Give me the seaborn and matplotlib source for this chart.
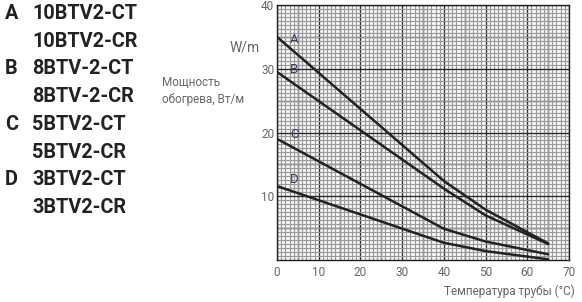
import numpy as np
import pandas as pd
import matplotlib
matplotlib.use("Agg")
import matplotlib.pyplot as plt
import seaborn as sns
from matplotlib.ticker import MultipleLocator

# data
temps = [0, 40, 50, 65]
series_A = [35.0, 12.4, 7.9, 2.6]
series_B = [29.5, 11.2, 7.0, 2.5]
series_C = [19.0, 4.9, 2.9, 0.9]
series_D = [11.6, 2.7, 1.4, 0.1]
series_names = ["A", "B", "C", "D"]
legend_rows = [("A", "10BTV2-CT"), ("", "10BTV2-CR"),
               ("B", "8BTV-2-CT"), ("", "8BTV-2-CR"),
               ("C", "5BTV2-CT"), ("", "5BTV2-CR"),
               ("D", "3BTV2-CT"), ("", "3BTV2-CR")]
x_ticks = [0, 10, 20, 30, 40, 50, 60, 70]
y_ticks = [10, 20, 30, 40]

rows = []
for name, vals in zip(series_names, [series_A, series_B, series_C, series_D]):
    for t, v in zip(temps, vals):
        rows.append({"t": t, "p": v, "s": name})
df = pd.DataFrame(rows)

sns.set_style("white")
plt.rcParams['font.family'] = ['Roboto', 'DejaVu Sans']

fig = plt.figure(figsize=(5.82, 3.02), dpi=100)
ax = fig.add_axes([277/582, 1-260/302, (569-277)/582, (260-5)/302])

ax.set_xlim(0, 70)
ax.set_ylim(0, 40)

sns.lineplot(data=df, x="t", y="p", hue="s", palette=["#222222"]*4,
             linewidth=1.8, legend=False, ax=ax, estimator=None, sort=False)

ax.set_xlabel("")
ax.set_ylabel("")
ax.set_xticks(x_ticks)
ax.set_xticklabels([str(v) for v in x_ticks])
ax.set_yticks(y_ticks)
ax.set_yticklabels([str(v) for v in y_ticks])
ax.xaxis.set_minor_locator(MultipleLocator(1))
ax.yaxis.set_minor_locator(MultipleLocator(0.625))
ax.grid(which="minor", color="#9a9a9a", linewidth=0.9)
ax.grid(which="major", color="#2a2a2a", linewidth=1.0)
ax.set_axisbelow(True)
# major grid every 5 via extra lines
for xv in range(5, 70, 10):
    ax.axvline(xv, color="#2a2a2a", linewidth=1.0, zorder=0.5)
for yv in range(5, 40, 10):
    ax.axhline(yv, color="#2a2a2a", linewidth=1.0, zorder=0.5)
ax.tick_params(axis="both", which="both", length=0, labelsize=8.5,
               labelcolor="#666666")
ax.tick_params(axis="y", pad=2)
ax.tick_params(axis="x", pad=4)
for sp in ax.spines.values():
    sp.set_color("#222222")
    sp.set_linewidth(1.0)

label_pos = {"A": 34.6, "B": 29.9, "C": 19.7, "D": 12.6}
for name in series_names:
    ax.text(4.1, label_pos[name], name, fontsize=9.5, color="#3c3c58",
            ha="center", va="center")

# axis labels
fig.text(575/582, 1-291/302, "Температура трубы (°C)", fontsize=8.5,
         color="#666666", ha="right", va="center")
fig.text(260/582, 1-47/302, "W/m", fontsize=10, color="#666666",
         ha="right", va="center")
fig.text(162/582, 1-82/302, "Мощность", fontsize=8.5, color="#666666",
         ha="left", va="center")
fig.text(162/582, 1-99/302, "обогрева, Вт/м", fontsize=8.5, color="#666666",
         ha="left", va="center")

# legend block
for i, (letter, model) in enumerate(legend_rows):
    y = 1 - (19 + i*27.7)/302
    if letter:
        fig.text(5/582, y, letter, fontsize=14.3, fontweight="bold",
                 color="#222222", ha="left", va="baseline")
    fig.text(32/582, y, model, fontsize=14.3, fontweight="bold",
             color="#222222", ha="left", va="baseline")

fig.savefig("out.png", dpi=100)
